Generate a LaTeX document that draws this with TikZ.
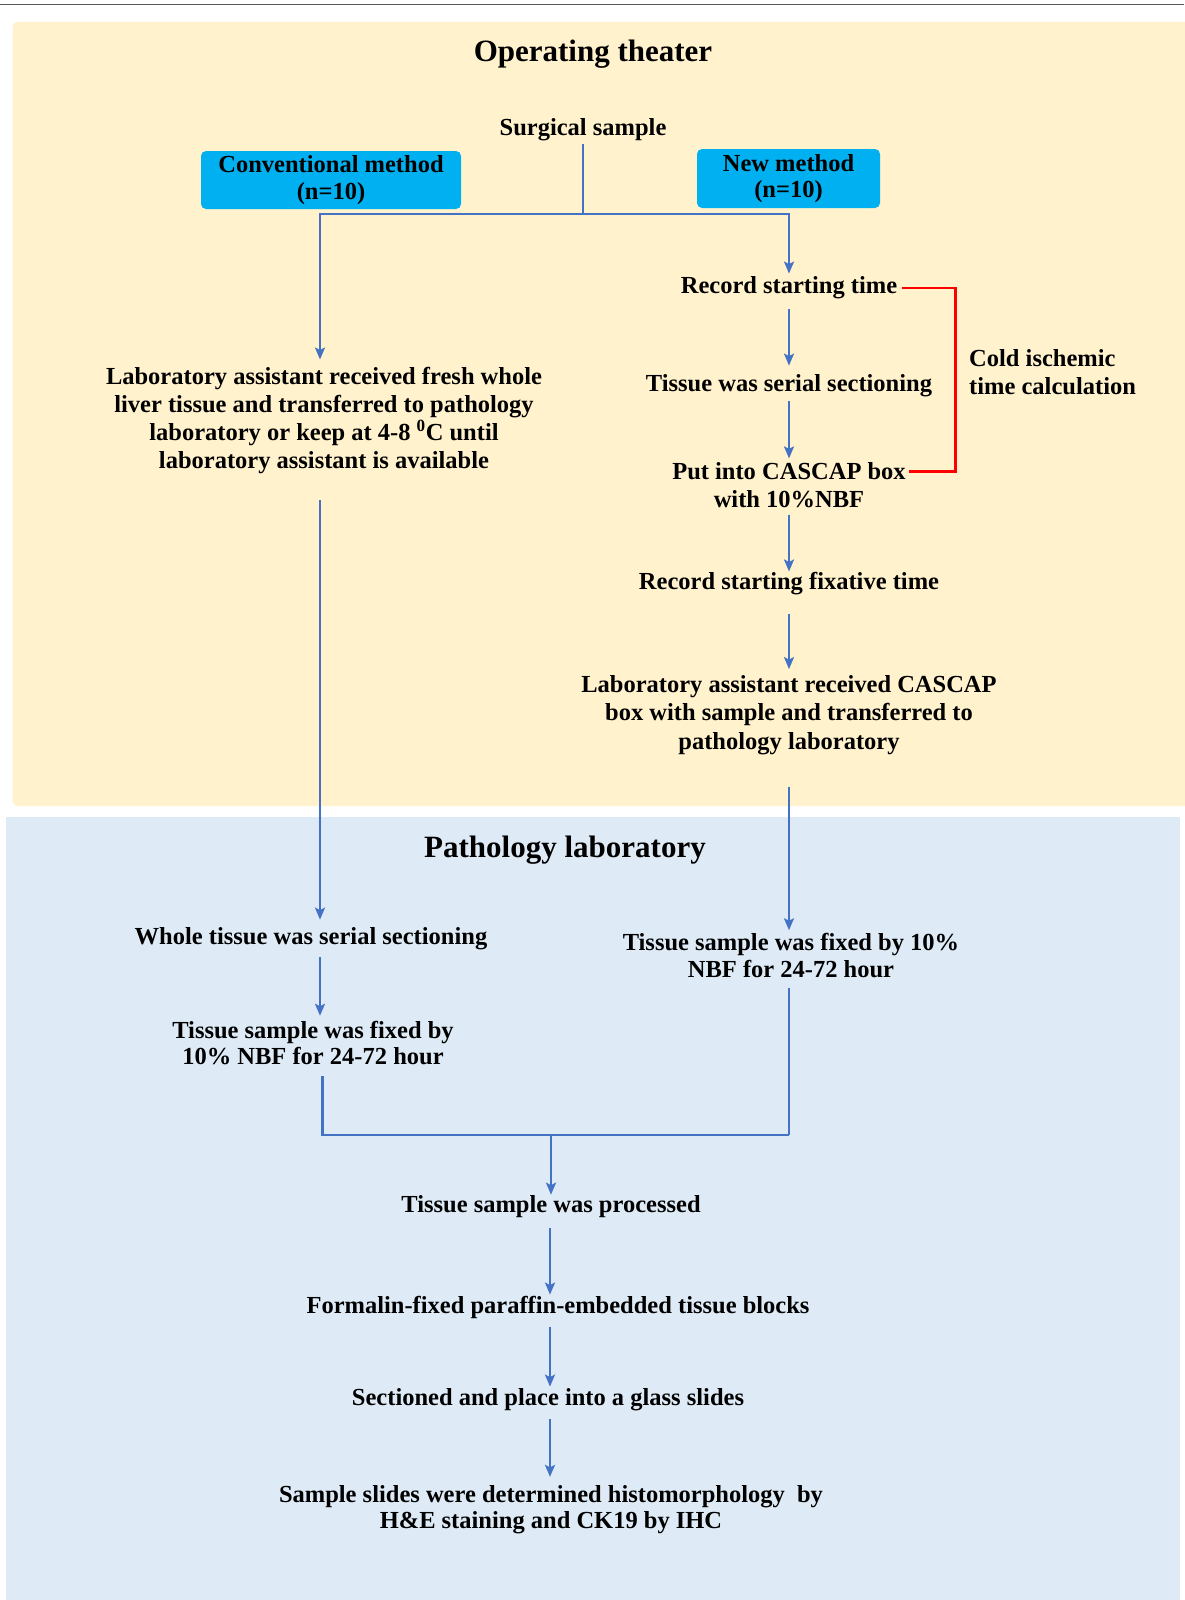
\documentclass[tikz,border=0pt]{standalone}
\usepackage{fontspec}
\setmainfont{Liberation Serif}
\usetikzlibrary{arrows.meta}
\definecolor{panelY}{HTML}{FFF2CC}
\definecolor{panelB}{HTML}{DEEBF7}
\definecolor{boxC}{HTML}{00B0F0}
\definecolor{lineB}{HTML}{4472C4}
\definecolor{lineR}{HTML}{FF0000}
\begin{document}
\begin{tikzpicture}[x=1pt,y=-1pt,
  txt/.style={font=\fontsize{24.5}{27.5}\selectfont\bfseries, align=center, inner sep=0pt, yshift=-3pt},
  ttl/.style={font=\fontsize{31}{36}\selectfont\bfseries, inner sep=0pt, yshift=-3pt},
  methbox/.style={txt, yshift=3pt, fill=boxC, rounded corners=5pt, font=\fontsize{24.5}{26.5}\selectfont\bfseries},
  conn/.style={draw=lineB, line width=2.2pt},
  arr/.style={conn, -{Stealth[length=12pt,width=10pt,inset=2.5pt]}},
  redline/.style={draw=lineR, line width=2.6pt}]
\useasboundingbox (0,0) rectangle (1184,1600);
\fill[white] (0,0) rectangle (1184,1600);
% top rule
\draw[gray!70!black, line width=1.2pt] (0,4.7) -- (1184,4.7);
% panels
\fill[panelY, rounded corners=5pt] (12.5,22) rectangle (1190,806);
\fill[panelB] (6,817) rectangle (1180,1600);
% titles
\node[ttl] (t1) at (593,51) {Operating theater};
\node[ttl] (t2) at (565,847) {Pathology laboratory};
% column guides
\coordinate (colL) at (320,0);
\coordinate (colR) at (789,0);
\coordinate (colC) at (550,0);
% nodes
\node[txt] (surg) at (583,127) {Surgical sample};
\node[methbox, minimum width=260pt, minimum height=58pt] (conv) at (331,180) {Conventional method\\(n=10)};
\node[methbox, minimum width=183pt, minimum height=59pt] (newm) at (788.5,178.5) {New method\\(n=10)};
\node[txt] (rst) at (789,285) {Record starting time};
\node[txt] (tss) at (789,383) {Tissue was serial sectioning};
\node[txt] (put) at (789,482) {Put into CASCAP box\\with 10\%NBF};
\node[txt, align=left, anchor=west] (cold) at (969,369) {Cold ischemic\\time calculation};
\node[txt] (rsf) at (789,581) {Record starting fixative time};
\node[txt, font=\fontsize{24.5}{28.5}\selectfont\bfseries] (lac) at (789,712) {Laboratory assistant received CASCAP\\box with sample and transferred to\\pathology laboratory};
\node[txt, font=\fontsize{24.5}{28}\selectfont\bfseries] (leftinfo) at (324,418) {Laboratory assistant received fresh whole\\liver tissue and transferred to pathology\\laboratory or keep at 4-8 \textsuperscript{0}C until\\laboratory assistant is available};
\node[txt] (wts) at (311,936) {Whole tissue was serial sectioning};
\node[txt, font=\fontsize{24.5}{26.5}\selectfont\bfseries] (tsf1) at (313,1040) {Tissue sample was fixed by\\10\% NBF for 24-72 hour};
\node[txt, font=\fontsize{24.5}{26.5}\selectfont\bfseries] (tsf2) at (791,952.5) {Tissue sample was fixed by 10\%\\NBF for 24-72 hour};
\node[txt] (proc) at (551,1204) {Tissue sample was processed};
\node[txt] (ffpe) at (558,1304) {Formalin-fixed paraffin-embedded tissue blocks};
\node[txt] (sect) at (548,1397) {Sectioned and place into a glass slides};
\node[txt, font=\fontsize{24.5}{26.5}\selectfont\bfseries] (slides) at (551,1506.5) {Sample slides were determined histomorphology~ by\\H\&E staining and CK19 by IHC};
% split from surgical sample
\coordinate (split) at (583,214);
\draw[conn, shorten <=3pt] (surg) -- (split);
\draw[arr, shorten >=8pt] (split) -| (leftinfo.north -| colL);
\draw[arr, shorten >=3pt] (split) -| (rst.north -| colR);
% right column
\draw[arr, shorten <=10pt, shorten >=9pt] (rst.south -| colR) -- (tss.north -| colR);
\draw[arr, shorten <=4pt, shorten >=4pt] (tss.south -| colR) -- (put.north -| colR);
\draw[arr, shorten <=7pt, shorten >=1pt] (put.south -| colR) -- (rsf.north -| colR);
\draw[arr, shorten <=18pt, shorten >=6pt] (rsf.south -| colR) -- (lac.north -| colR);
\draw[arr, shorten <=32pt, shorten >=3pt] (lac.south -| colR) -- (tsf2.north -| colR);
% left column
\draw[arr, shorten <=26pt, shorten >=8pt] (leftinfo.south -| colL) -- (wts.north -| colL);
\draw[arr, shorten <=7pt, shorten >=5pt] (wts.south -| colL) -- (tsf1.north -| colL);
% join
\coordinate (joinL) at (322.5,1135);
\coordinate (joinR) at (789,1135);
\coordinate (joinC) at (551,1135);
\draw[conn, shorten <=11pt] ([xshift=2.5pt]tsf1.south -| colL) -- (joinL) -- (joinR);
\draw[conn, shorten <=10pt] (tsf2.south -| colR) -- (joinR);
\draw[arr, shorten >=1pt] (joinC) -- (proc.north -| joinC);
% centre column
\draw[arr, shorten <=10pt, shorten >=1pt] (proc.south -| colC) -- (ffpe.north -| colC);
\draw[arr, shorten <=9pt, shorten >=2pt] (ffpe.south -| colC) -- (sect.north -| colC);
\draw[arr, shorten <=8pt, shorten >=8pt] (sect.south -| colC) -- (slides.north -| colC);
% cold ischemic bracket
\draw[redline] ([xshift=5pt]rst.east) -- ++(53,0) |- ([xshift=3pt,yshift=13.25pt]put.east -| 906,0);
\end{tikzpicture}
\end{document}
